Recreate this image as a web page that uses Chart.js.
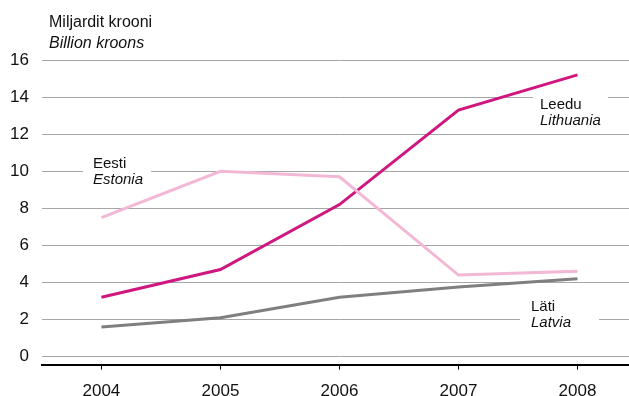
<!DOCTYPE html>
<html>
<head>
    <title>Miljardit krooni</title>
    <script src="https://cdn.jsdelivr.net/npm/chart.js@4/dist/chart.umd.min.js"></script>
    <style>
        html, body { margin: 0; padding: 0; overflow: hidden; background: #fff; }
        #wrap { width: 640px; height: 414px; }
    </style>
</head>
<body>
    <div id="wrap"><canvas id="chart"></canvas></div>

    <script>
        // data
        var years = ['2004', '2005', '2006', '2007', '2008'];
        var leedu = [3.2, 4.7, 8.2, 13.3, 15.2];
        var eesti = [7.5, 10.0, 9.7, 4.4, 4.6];
        var lati = [1.6, 2.1, 3.2, 3.75, 4.2];
        var yTicks = [0, 2, 4, 6, 8, 10, 12, 14, 16];

        var fontFamily = '"Liberation Sans", Arial, sans-serif';

        // series name boxes: white patch over the grid, then two lines of text
        var seriesLabels = [
            { box: [83, 155, 68, 33], x: 93, lines: ['Eesti', 'Estonia'], y: [168, 184] },
            { box: [533, 90, 75, 38], x: 540, lines: ['Leedu', 'Lithuania'], y: [109, 125] },
            { box: [520, 297, 79, 34], x: 531, lines: ['Läti', 'Latvia'], y: [311, 327] }
        ];

        var labelPlugin = {
            id: 'labels',
            beforeDatasetsDraw: function(chart) {
                var c = chart.ctx;
                c.save();
                seriesLabels.forEach(function(s) {
                    c.fillStyle = '#fff';
                    c.fillRect(s.box[0], s.box[1], s.box[2], s.box[3]);
                    c.fillStyle = '#111';
                    c.textBaseline = 'alphabetic';
                    c.font = '15px ' + fontFamily;
                    c.fillText(s.lines[0], s.x, s.y[0]);
                    c.font = 'italic 15px ' + fontFamily;
                    c.fillText(s.lines[1], s.x, s.y[1]);
                });
                c.restore();
            },
            afterDraw: function(chart) {
                var c = chart.ctx;
                c.save();
                c.fillStyle = '#111';
                c.textBaseline = 'alphabetic';
                c.font = '16px ' + fontFamily;
                c.fillText('Miljardit krooni', 49, 27);
                c.font = 'italic 16px ' + fontFamily;
                c.fillText('Billion kroons', 49, 48);
                c.restore();
            }
        };

        var ctx = document.getElementById('chart').getContext('2d');
        var chart = new Chart(ctx, {
            type: 'line',
            data: {
                labels: years,
                datasets: [{
                    label: 'Eesti',
                    data: eesti,
                    borderColor: '#f2b8d5',
                    borderWidth: 3,
                    pointRadius: 0,
                    fill: false
                }, {
                    label: 'Läti',
                    data: lati,
                    borderColor: '#7f7f7f',
                    borderWidth: 3,
                    pointRadius: 0,
                    fill: false
                }, {
                    label: 'Leedu',
                    data: leedu,
                    borderColor: '#d0167f',
                    borderWidth: 3,
                    pointRadius: 0,
                    fill: false
                }]
            },
            options: {
                responsive: true,
                maintainAspectRatio: false,
                animation: false,
                layout: {
                    padding: { top: 60, left: -3, right: 3, bottom: 0 }
                },
                scales: {
                    x: {
                        offset: true,
                        border: { display: true, color: '#000', width: 2 },
                        grid: {
                            drawOnChartArea: false,
                            drawTicks: true,
                            tickLength: 5,
                            color: '#000'
                        },
                        ticks: {
                            color: '#111',
                            padding: 12,
                            maxRotation: 0,
                            font: { size: 17, family: fontFamily }
                        }
                    },
                    y: {
                        min: -0.43,
                        max: 16,
                        border: { display: false },
                        grid: { color: '#a6a6a6', lineWidth: 1, drawTicks: false },
                        afterBuildTicks: function(scale) {
                            scale.ticks = yTicks.map(function(v) { return { value: v }; });
                        },
                        ticks: {
                            color: '#111',
                            padding: 13,
                            font: { size: 17, family: fontFamily }
                        }
                    }
                },
                plugins: {
                    legend: { display: false },
                    tooltip: { enabled: false }
                }
            },
            plugins: [labelPlugin]
        });
    </script>
</body>
</html>
